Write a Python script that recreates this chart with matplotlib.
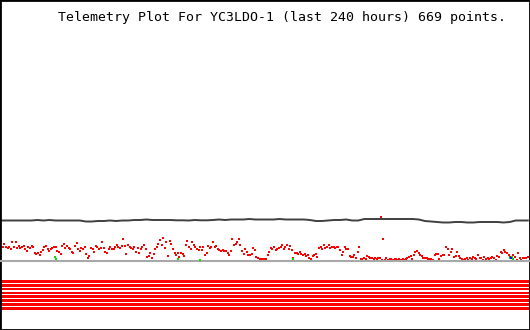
import numpy as np
import matplotlib
matplotlib.use("Agg")
import matplotlib.pyplot as plt

# Title and time span
title = "Telemetry Plot For YC3LDO-1 (last 240 hours) 669 points."
hours_span = 240

# Channel 1 (dark grey trace), sampled evenly over the 240 hours
ch1 = [39.5, 39.5, 39.5, 39.5, 39.5, 39.5, 40, 39.5, 40, 39.5, 39.5, 39.5, 39.5, 39.5,
       38.5, 38.5, 39,
       39, 39.5, 39, 39.5, 39.5,
       40, 40, 40.5, 40, 40, 40, 40,
       39.7, 39.7, 39.5, 40, 39.7, 39.7, 40, 40.5, 40,
       40.5, 40.5, 40.5, 41, 40.5, 40.5, 40.5, 40.5, 41, 40.5, 40.5, 40.5,
       40.5, 40,
       39, 39, 39.5,
       40, 40, 40.5,
       39.5, 39.5,
       41, 41, 41, 41, 41, 41, 41, 41, 41, 40.5,
       39, 38.5, 38,
       37.5, 37.5, 38, 38, 37.5, 37.5, 38, 38, 38, 38, 37.5, 38,
       39.5, 39.5, 39.5]

# Channel 2 (red points)
ch2 = [19, 13, 16, 13, 12, 13, 11, 18, 13, 18, 12, 14, 12, 13, 14, 11, 9, 13, 12, 14,
       13, 7, 6, 7, 5, 8, 10, 13, 14, 11, 9, 11, 12, 13, 13, 9, 8, 6,
       14, 16, 12, 14, 12, 11, 8, 7, 14, 17, 11, 9, 12, 11, 13, 6, 2, 4, 12, 11,
       8, 14, 13, 11, 12, 18, 12, 8, 7, 11, 13, 11, 11, 13, 15, 13, 12, 14,
       21, 14, 6, 15, 13, 12, 11, 13, 8, 12, 7, 11, 13, 15, 11, 3, 4, 7, 2, 6,
       11, 13, 16, 20, 15, 22, 12, 18, 4, 19, 16, 11, 7, 5, 7, 3, 7, 6,
       4, 15, 19, 13, 11, 18, 15, 13, 11, 10, 13, 10, 13, 5, 7, 14, 12, 13, 18, 13,
       14, 11, 10, 9, 10, 9, 9, 7, 5, 9, 21, 15, 16, 18, 21, 15,
       9, 6, 11, 8, 5, 5, 6, 12, 10, 3, 2, 1, 1, 1, 1, 1, 5, 8, 12, 11,
       13, 10, 11, 12, 13, 15, 11, 13, 15, 11, 14, 10, 2, 7, 7, 6, 8, 6, 5,
       6, 4, 5, 2, 1, 4, 5, 6, 3, 12, 13, 11, 15, 12, 13, 15, 12, 13, 13, 12,
       13, 13, 10, 5, 8, 13, 11, 11, 4, 3, 3, 5, 2, 8, 13, 1,
       1, 2, 1, 4, 3, 2, 2, 1, 2, 1, 2, 2, 0, 21, 0, 2, 0, 1, 1, 0,
       1, 1, 0, 1, 0, 1, 0, 1, 2, 3, 4, 1, 5, 8, 9, 7, 5,
       4, 2, 2, 2, 1, 1, 1, 0, 5, 6, 6, 1, 4, 5, 5, 13, 11, 5, 8, 11,
       3, 4, 8, 4, 2, 1, 0, 1, 2, 0, 2, 1, 3, 2, 1, 5, 2,
       2, 0, 3, 1, 2, 1, 2, 3, 2, 0, 4, 3, 8, 7, 10, 8, 7, 5, 3, 2,
       5, 3, 0, 7, 2, 0, 2, 2, 2, 3]

# odd channel 2 sample sitting up near channel 1
ch2_extra_t = [173.2]
ch2_extra_v = [43]

# Channel 3 (green) and channel 4 (blue) - only the few non-zero samples show
ch3_t = [24.5, 25.0, 80.5, 90.5, 133.2, 231.8, 232.7, 233.2]
ch3_v = [2.7, 1.0, 1.0, 0.5, 1.0, 2.0, 3.0, 1.0]
ch4_t = [232.3]
ch4_v = [2.5]

# Status bits (all set)
status_bits = [1, 1, 1, 1, 1, 1, 1, 1]

t1 = np.linspace(0, hours_span, len(ch1))
t2 = np.linspace(0, hours_span, len(ch2))

fig = plt.figure(figsize=(5.3, 3.3), dpi=100)
ax = fig.add_axes([0, 0, 1, 1])
ax.set_xlim(-0.5, hours_span + 1)
ax.set_ylim(-70, 260)

# zero line
ax.axhline(-1, color="#a8a8a8", lw=1.5, zorder=3)

ax.plot(t1, ch1, color="#404040", lw=1.4, zorder=2)
ax.plot(t2, ch2, "s", color="#ff0000", ms=1.7, mew=0, zorder=2)
ax.plot(ch2_extra_t, ch2_extra_v, "s", color="#ff0000", ms=1.7, mew=0, zorder=4)
ax.plot(ch3_t, ch3_v, "s", color="#00e000", ms=1.7, mew=0, zorder=4)
ax.plot(ch4_t, ch4_v, "s", color="#0000ff", ms=1.7, mew=0, zorder=5)

# status bars
for i, bit in enumerate(status_bits):
    if bit:
        top = -20 - i * 3.84
        ax.axhspan(top - 2.8, top, color="#ff0000", lw=0, zorder=2)

ax.set_xticks([])
ax.set_yticks([])
for s in ax.spines.values():
    s.set_color("black")
    s.set_linewidth(2)

fig.text(0.533, 0.947, title, ha="center", va="center",
         family="DejaVu Sans Mono", fontsize=9.5)

fig.savefig("out.png", dpi=100)
